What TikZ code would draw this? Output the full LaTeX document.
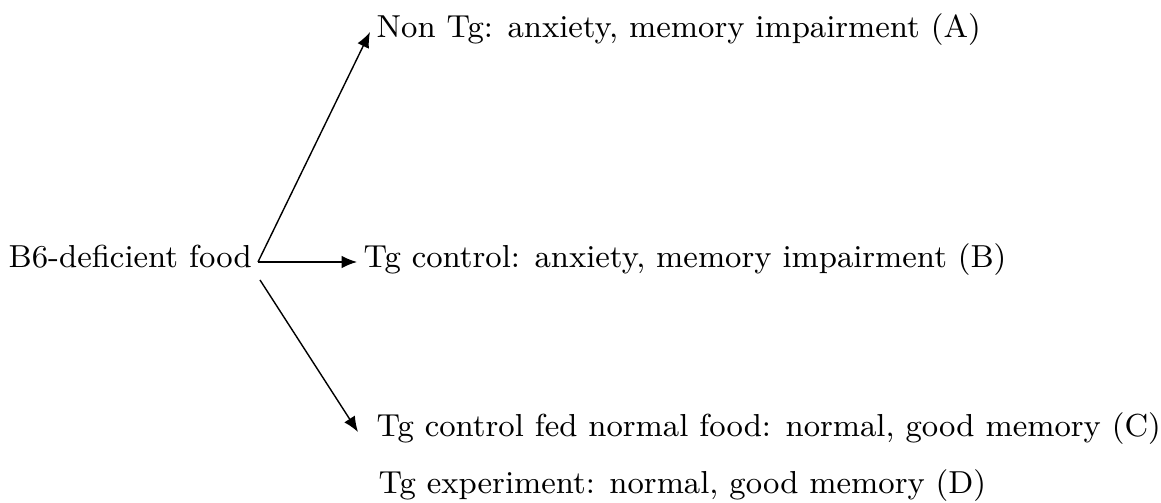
\documentclass[tikz,border=0pt]{standalone}
\usepackage[svgnames, dvipsnames]{xcolor}
\usetikzlibrary{calc, arrows.meta}
\tikzset{>={Latex[length=4.4pt,width=3.6pt]}}
\tikzset{
  outcome/.style={anchor=base west, inner sep=0pt, font=\fontsize{9.05}{11}\selectfont},
  link/.style={->, thin}
}

\begin{document}
\begin{tikzpicture}
\useasboundingbox (0,0) rectangle (11.61,5.03);
\node[outcome] (food) at (0.08,2.35) {B6-deficient food};
\coordinate (fork) at (2.58,2.41);
\coordinate (forklow) at (2.60,2.23);
\node[outcome] (A) at (3.76,4.65) {Non Tg: anxiety, memory impairment (A)};
\node[outcome] (B) at (3.63,2.35) {Tg control: anxiety, memory impairment (B)};
\node[outcome] (C) at (3.76,0.66) {Tg control fed normal food: normal, good memory (C)};
\node[outcome] (D) at (3.78,0.09) {Tg experiment: normal, good memory (D)};
\draw[link] (fork) -- ([xshift=-0.06cm,yshift=-0.02cm]A.west);
\draw[link] (fork) -- ([xshift=-0.06cm]B.west |- fork);
\draw[link] (forklow) -- ([xshift=-0.18cm,yshift=-0.03cm]C.west);
\end{tikzpicture}
\end{document}
